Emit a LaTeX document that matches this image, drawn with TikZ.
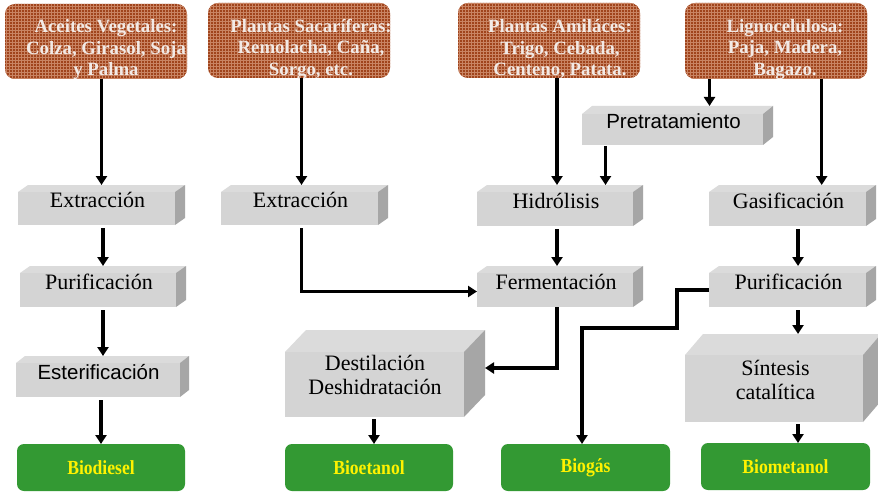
\documentclass[tikz,border=0pt]{standalone}
\usepackage{fontspec}
\setmainfont{Liberation Serif}
\setsansfont{Liberation Sans}
\newfontfamily\narrowserif[FakeStretch=0.88]{Liberation Serif}
\usetikzlibrary{arrows.meta,patterns}
\definecolor{brownbox}{HTML}{A0441C}
\definecolor{brownlight}{HTML}{C98463}
\definecolor{browntext}{HTML}{F2EAE6}
\definecolor{frontgray}{HTML}{D4D4D4}
\definecolor{topgray}{HTML}{DBDBDB}
\definecolor{sidegray}{HTML}{A6A6A6}
\definecolor{greenbox}{HTML}{339933}
\begin{document}
\begin{tikzpicture}[x=1pt,y=-1pt,
  source/.style={rectangle, rounded corners=10pt, fill=brownbox, inner sep=0pt, outer sep=0pt,
    postaction={pattern=grid, pattern color=brownlight}},
  sourcetext/.style={font=\bfseries\fontsize{18.8}{21.5}\selectfont, text=browntext, align=center, inner sep=0pt},
  product/.style={rectangle, rounded corners=7pt, fill=greenbox, inner sep=0pt, outer sep=0pt,
    minimum height=47pt, font=\narrowserif\bfseries\fontsize{20}{22}\selectfont, text=yellow},
  cube/.style 2 args={rectangle, inner sep=0pt, outer sep=0pt,
    path picture={
      \fill[frontgray] ([yshift=-#2pt]path picture bounding box.north west) rectangle ([xshift=-#1pt]path picture bounding box.south east);
      \fill[topgray] ([yshift=-#2pt]path picture bounding box.north west) -- ([xshift=#1pt]path picture bounding box.north west) -- (path picture bounding box.north east) -- ([xshift=-#1pt,yshift=-#2pt]path picture bounding box.north east) -- cycle;
      \fill[sidegray] ([xshift=-#1pt,yshift=-#2pt]path picture bounding box.north east) -- (path picture bounding box.north east) -- ([yshift=#2pt]path picture bounding box.south east) -- ([xshift=-#1pt]path picture bounding box.south east) -- cycle;
    }},
  boxtext/.style={font=\fontsize{22}{24}\selectfont, text height=14.6pt, text depth=0pt, inner sep=0pt, xshift=-4pt, yshift=4.5pt},
  sanstext/.style={font=\sffamily\fontsize{20.5}{24}\selectfont, text height=14.7pt, text depth=0pt, inner sep=0pt, xshift=-4pt, yshift=4.5pt},
  bigtext/.style={font=\fontsize{22}{24}\selectfont, align=center, inner sep=0pt},
  arr/.style={line width=3.5pt, -{Triangle[width=11pt,length=9pt]}}
]
\useasboundingbox (0,0) rectangle (878,492);
\fill[white] (0,0) rectangle (878,492);

% column coordinates
\coordinate (cB) at (301.5,0);
\coordinate (cC) at (557,0);
\coordinate (cD) at (605.5,0);
\coordinate (cE) at (709.5,0);
\coordinate (cF) at (821.7,0);
\coordinate (cG) at (798,0);
\coordinate (cH) at (374,0);
\coordinate (cI) at (582,0);
\coordinate (j1) at (677,328);

% sources
\node[source, minimum width=182pt, minimum height=75pt,
  label={[sourcetext, xshift=10pt, yshift=-8.5pt]center:{Aceites Vegetales:\\Colza, Girasol, Soja\\y Palma}}] (t1) at (96,41.5) {};
\node[source, minimum width=182pt, minimum height=75pt,
  label={[sourcetext, xshift=12pt, yshift=-8.5pt]center:{Plantas Sacaríferas:\\Remolacha, Caña,\\Sorgo, etc.}}] (t2) at (299,40.5) {};
\node[source, minimum width=182pt, minimum height=75pt,
  label={[sourcetext, xshift=11pt, yshift=-8.5pt]center:{Plantas Amiláces:\\Trigo, Cebada,\\Centeno, Patata.}}] (t3) at (549,40.5) {};
\node[source, minimum width=182pt, minimum height=76pt,
  label={[sourcetext, xshift=9pt, yshift=-8.5pt]center:{Lignocelulosa:\\Paja, Madera,\\Bagazo.}}] (t4) at (776,41) {};

% process boxes
\node[cube={10}{7}, minimum width=167pt, minimum height=40pt, label={[boxtext]center:Extracción}] (ext1) at (101.5,205) {};
\node[cube={10}{7}, minimum width=166pt, minimum height=41pt, label={[boxtext]center:Purificación}] (pur1) at (103,286.5) {};
\node[cube={9}{7}, minimum width=173pt, minimum height=41pt, label={[sanstext]center:Esterificación}] (est1) at (102.5,376.5) {};
\node[cube={10}{7}, minimum width=167pt, minimum height=40pt, label={[boxtext]center:Extracción}] (ext2) at (304.5,205) {};
\node[cube={10}{8}, minimum width=191pt, minimum height=39pt, label={[sanstext]center:Pretratamiento}] (pret) at (677.5,125.5) {};
\node[cube={10}{7}, minimum width=166pt, minimum height=41pt, label={[boxtext]center:Hidrólisis}] (hid) at (560,205.5) {};
\node[cube={10}{7}, minimum width=166pt, minimum height=41pt, label={[boxtext]center:Fermentación}] (fer) at (560,286.5) {};
\node[cube={10}{7}, minimum width=167pt, minimum height=41pt, label={[boxtext]center:Gasificación}] (gas) at (792.5,205.5) {};
\node[cube={10}{7}, minimum width=167pt, minimum height=41pt, label={[boxtext]center:Purificación}] (pur2) at (792.5,286.5) {};
\node[cube={21}{22}, minimum width=200pt, minimum height=87pt,
  label={[bigtext, xshift=-10pt, yshift=-1pt]center:{Destilación\\Deshidratación}}] (dest) at (385,373.5) {};
\node[cube={18}{21}, minimum width=196pt, minimum height=88pt,
  label={[bigtext, xshift=-7.5pt, yshift=-2pt]center:{Síntesis\\catalítica}}] (sint) at (783,378) {};

% products
\node[product, minimum width=168pt] (bd) at (101,467.5) {Biodiesel};
\node[product, minimum width=168pt] (be) at (369,467.5) {Bioetanol};
\node[product, minimum width=169pt] (bg) at (585.5,467.5) {Biogás};
\node[product, minimum width=169pt] (bm) at (785.5,466.5) {Biometanol};

% connectors
\draw[arr] (t1.south -| ext1.north) -- (ext1.north);
\draw[arr, shorten <=3pt] (ext1.south -| pur1.north) -- (pur1.north);
\draw[arr, shorten <=3pt] (pur1.south) -- (pur1.south |- est1.north);
\draw[arr, shorten <=3pt] (bd.north |- est1.south) -- (bd.north);
\draw[arr] (t2.south -| cB) -- (ext2.north -| cB);
\draw[arr, shorten <=3pt] (ext2.south -| cB) |- ([yshift=-5pt]fer.west);
\draw[arr] (t3.south -| cC) -- (hid.north -| cC);
\draw[arr] (t4.south -| cE) -- (pret.north -| cE);
\draw[arr, shorten <=1pt] (pret.south -| cD) -- (hid.north -| cD);
\draw[arr] (t4.south -| cF) -- (gas.north -| cF);
\draw[arr, shorten <=3pt] (hid.south -| cC) -- (fer.north -| cC);
\draw[arr] (fer.south -| cC) |- ([yshift=5.5pt]dest.east);
\draw[arr, shorten <=3pt] (gas.south -| cG) -- (pur2.north -| cG);
\draw[arr, shorten <=3pt] (pur2.south -| cG) -- (sint.north -| cG);
\draw[arr, shorten <=2pt] (sint.south -| cG) -- (bm.north -| cG);
\draw[arr, shorten <=2pt] (dest.south -| cH) -- (be.north -| cH);
\draw[arr] ([yshift=-3.5pt]pur2.west) -| (j1) -| (bg.north -| cI);
\end{tikzpicture}
\end{document}
